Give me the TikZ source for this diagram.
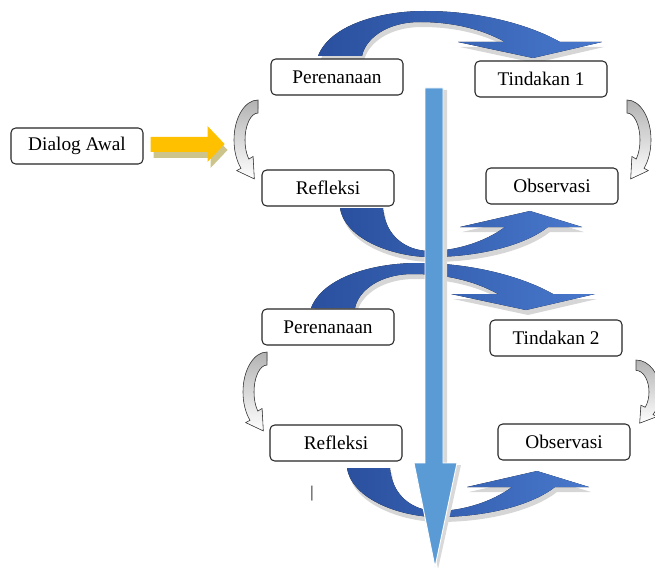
\documentclass[tikz,border=0pt]{standalone}
\usepackage{fontspec}
\setmainfont{Liberation Serif}
\usepackage{tikz}
\usetikzlibrary{shapes,arrows.meta,positioning,calc}
\definecolor{arcdark}{RGB}{42,80,158}
\definecolor{arclight}{RGB}{72,120,204}
\definecolor{shaftblue}{RGB}{91,155,213}
\definecolor{dialogyellow}{RGB}{255,192,0}
\definecolor{dialogtan}{RGB}{205,196,140}
% outlines of the block arrows, local pixel units
\newcommand{\toparcpath}{(-112,26) .. controls (-100,-5) and (-50,-19) .. (-5,-19) .. controls (50,-19) and (100,-5) .. (130,12) -- (172,12) -- (103,28) -- (28,12) -- (75,12) .. controls (50,-2) and (20,-8) .. (-10,-8) .. controls (-45,-8) and (-65,10) .. (-68,26) -- cycle}
\newcommand{\botarcpath}{(-100,-22) .. controls (-95,10) and (-45,27) .. (-10,27) .. controls (40,27) and (85,15) .. (108,-3) -- (142,-3) -- (90,-19) -- (20,-3) -- (65,-3) .. controls (45,12) and (15,21) .. (-10,21) .. controls (-35,21) and (-55,5) .. (-57,-22) -- cycle}
\newcommand{\bendpath}{(0,-40) arc[start angle=270, end angle=135, x radius=24, y radius=40] -- (-21.3,30.6) -- (-3.7,38.9) -- (-4.9,16.5) -- (-9.2,19.1) arc[start angle=135, end angle=270, x radius=13, y radius=27] -- cycle}

\begin{document}
\begin{tikzpicture}[
    x=0.03cm, y=-0.03cm,
    font=\fontsize{16.5}{19}\selectfont,
    stage/.style={rectangle, draw=black!85, fill=white, rounded corners=4pt, line width=0.9pt, minimum width=3.96cm, minimum height=1.08cm, inner sep=2pt},
    arcshadow/.style={fill=black!16},
    arcfill/.style={left color=arcdark, right color=arclight},
    bendfill/.style={top color=gray!60, bottom color=white, draw=black!75, line width=0.5pt},
    toparc/.pic={
        \fill[arcshadow, shift={(2,5)}] \toparcpath;
        \fill[arcfill] \toparcpath;
    },
    botarc/.pic={
        \fill[arcshadow, shift={(2,5)}] \botarcpath;
        \fill[arcfill] \botarcpath;
    },
    bend/.pic={
        \filldraw[bendfill] \bendpath;
    }
]
    \useasboundingbox (0,0) rectangle (655,567);

    % Siklus 1 (top)
    \pic at (430,30) {toparc};
    \pic at (440,230) {botarc};
    \pic at (258,140) {bend};
    \pic[xscale=-1] at (627,140) {bend};

    % Siklus 2 (bottom)
    \pic at (423,282) {toparc};
    \pic at (447,490) {botarc};
    \pic at (267,392) {bend};
    \pic[xscale=-1, yscale=0.8] at (636,392) {bend};

    % Main downward arrow
    \fill[black!15] (429,90) -- (447,90) -- (447,465) -- (461,465) -- (438,569) -- (418,465) -- (429,465) -- cycle;
    \filldraw[fill=shaftblue, draw=white, line width=0.8pt] (425,88) -- (443,88) -- (443,463) -- (457,463) -- (435,567) -- (414,463) -- (425,463) -- cycle;

    % Stages
    \node[stage] (awal) at (77,146) {Dialog Awal};
    \node[stage] (rencana1) at (337,77) {Perenanaan};
    \node[stage] (tindakan1) at (541,79) {Tindakan 1};
    \node[stage] (refleksi1) at (328,188) {Refleksi};
    \node[stage] (observasi1) at (552,186) {Observasi};
    \node[stage] (rencana2) at (328,327) {Perenanaan};
    \node[stage] (tindakan2) at (556,338) {Tindakan 2};
    \node[stage] (refleksi2) at (336,443) {Refleksi};
    \node[stage] (observasi2) at (564,442) {Observasi};
    \node[font=\fontsize{14}{16}\selectfont] (cursor) at (312,494) {|};

    % Entry arrow
    \begin{scope}[shift={(awal.east)}]
        \fill[dialogtan, shift={(3,6)}] (7,-9) -- (64,-9) -- (64,-20) -- (81,-2) -- (64,16) -- (64,6) -- (7,6) -- cycle;
        \fill[dialogyellow] (7,-9) -- (64,-9) -- (64,-20) -- (81,-2) -- (64,16) -- (64,6) -- (7,6) -- cycle;
    \end{scope}
\end{tikzpicture}
\end{document}
